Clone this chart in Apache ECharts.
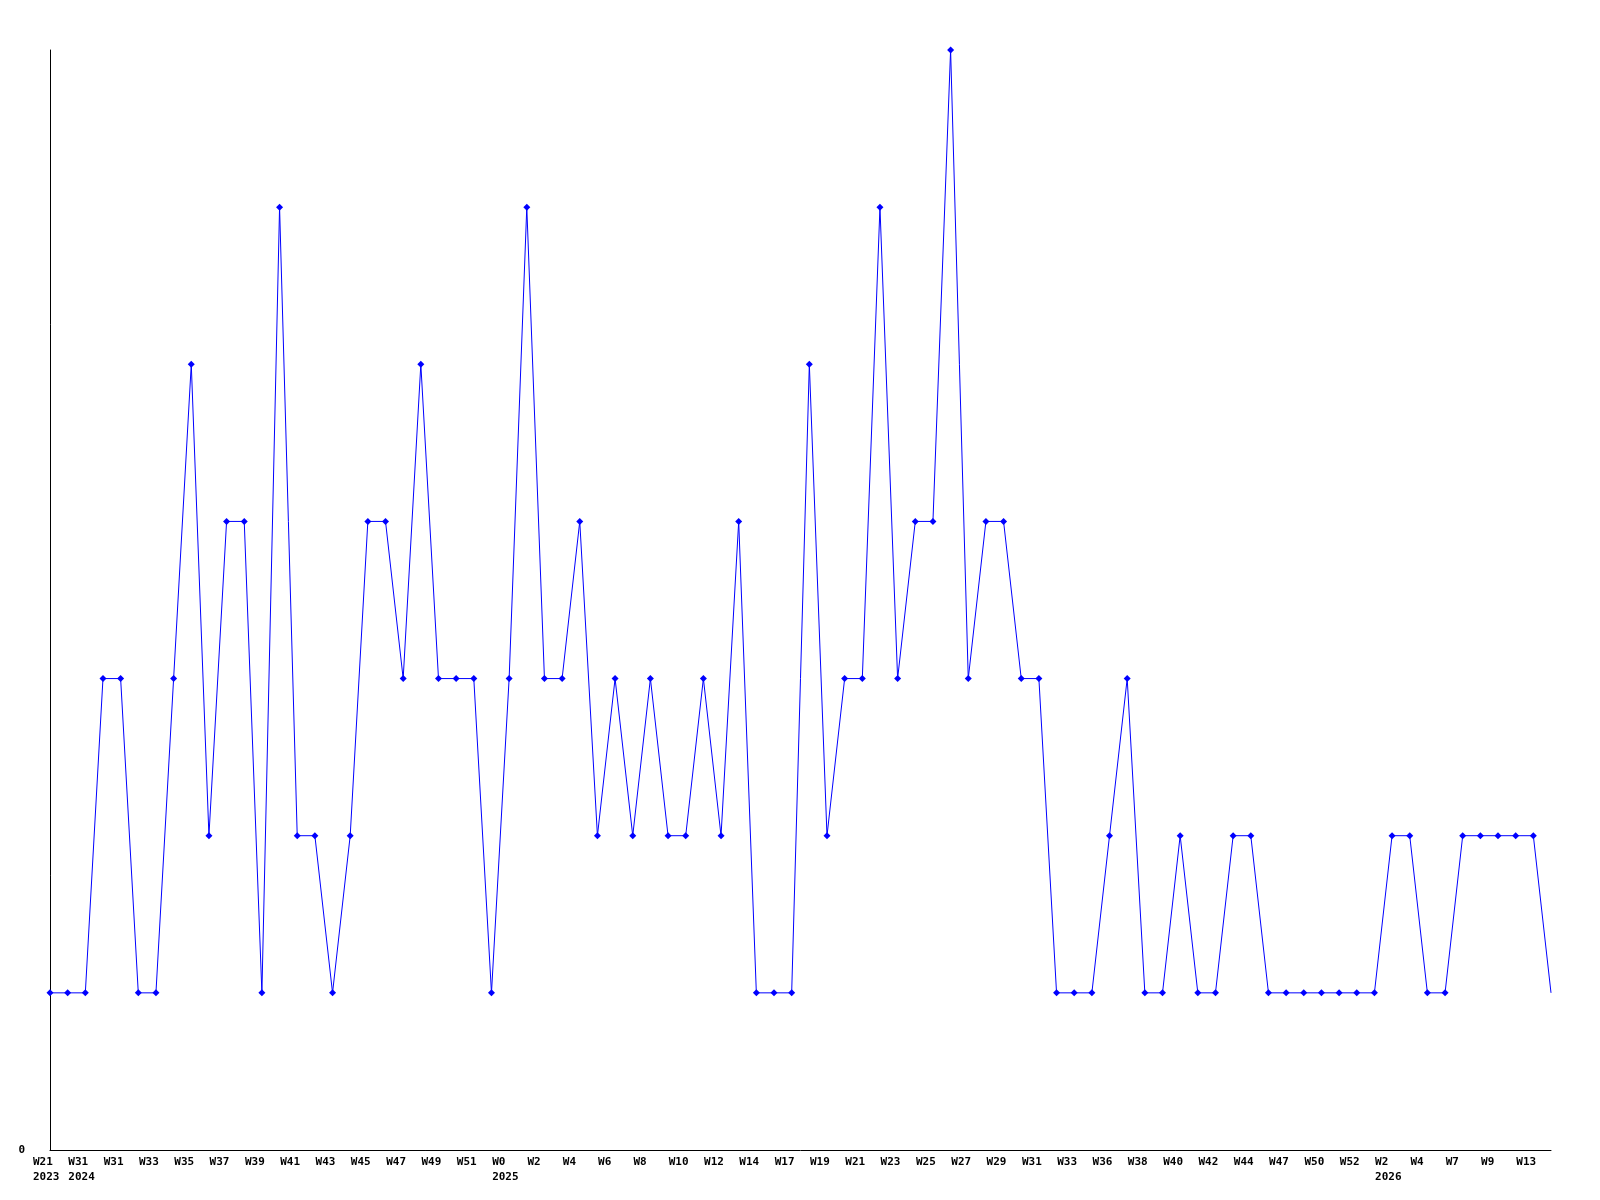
<!DOCTYPE html>
<html>
<head>
<meta charset="utf-8">
<script src="https://cdn.jsdelivr.net/npm/echarts@6/dist/echarts.min.js"></script>
<style>
html,body{margin:0;padding:0;background:#fff;}
#chart{width:1600px;height:1200px;}
</style>
</head>
<body>
<div id="chart"></div>
<script>
const weeks = ["W21","W30","W31","W30","W31","W32","W33","W34","W35","W36",
  "W37","W38","W39","W40","W41","W42","W43","W44","W45","W46",
  "W47","W48","W49","W50","W51","W52","W0","W1","W2","W3",
  "W4","W5","W6","W7","W8","W9","W10","W11","W12","W13",
  "W14","W16","W17","W18","W19","W20","W21","W22","W23","W24",
  "W25","W26","W27","W28","W29","W30","W31","W32","W33","W35",
  "W36","W37","W38","W39","W40","W41","W42","W43","W44","W46",
  "W47","W49","W50","W51","W52","W1","W2","W3","W4","W6",
  "W7","W8","W9","W12","W13","W14"];
const yearStartIndex = [0, 2, 26, 76];
const yearLabels = ["2023", "2024", "2025", "2026"];
const values = [1,1,1,3,3,1,1,3,5,2,
  4,4,1,6,2,2,1,2,4,4,
  3,5,3,3,3,1,3,6,3,3,
  4,2,3,2,3,2,2,3,2,4,
  1,1,1,5,2,3,3,6,3,4,
  4,7,3,4,4,3,3,1,1,1,
  2,3,1,1,2,1,1,2,2,1,
  1,1,1,1,1,1,2,2,1,1,
  2,2,2,2,2,1];
const yTicks = [0];

const chart = echarts.init(document.getElementById('chart'), null, {renderer: 'canvas'});
const lastIdx = values.length - 1;
const seriesData = values.map((v, i) => i === lastIdx ? {value: v, symbol: 'none'} : v);

chart.setOption({
  animation: false,
  backgroundColor: '#ffffff',
  grid: {left: 50, right: 49, top: 50, bottom: 50, containLabel: false},
  xAxis: {
    type: 'category',
    data: weeks,
    boundaryGap: false,
    axisLine: {show: true, lineStyle: {color: '#000', width: 1}},
    axisTick: {show: false},
    splitLine: {show: false},
    axisLabel: {
      interval: function (idx) { return idx % 2 === 0; },
      hideOverlap: false,
      margin: 5,
      align: 'center',
      formatter: function (val, idx) {
        const k = yearStartIndex.indexOf(idx);
        if (k >= 0) return '{w|' + val + '}\n{w|' + yearLabels[k] + '}';
        return '{w|' + val + '}';
      },
      rich: {
        w: {
          fontFamily: 'DejaVu Sans Mono',
          fontWeight: 'bold',
          fontSize: 11,
          lineHeight: 15,
          color: '#000',
          width: 34,
          align: 'left'
        }
      }
    }
  },
  yAxis: {
    type: 'value',
    min: 0,
    max: 7,
    interval: 7,
    axisLine: {show: true, lineStyle: {color: '#000', width: 1}},
    axisTick: {show: false},
    splitLine: {show: false},
    axisLabel: {
      margin: 25,
      fontFamily: 'DejaVu Sans Mono',
      fontWeight: 'bold',
      fontSize: 11,
      color: '#000',
      formatter: function (v) { return yTicks.indexOf(v) >= 0 ? String(v) : ''; }
    }
  },
  series: [{
    type: 'line',
    data: seriesData,
    symbol: 'diamond',
    symbolSize: 7,
    showAllSymbol: true,
    lineStyle: {color: '#0000ff', width: 1},
    itemStyle: {color: '#0000ff'},
    emphasis: {disabled: true}
  }]
});
</script>
</body>
</html>
